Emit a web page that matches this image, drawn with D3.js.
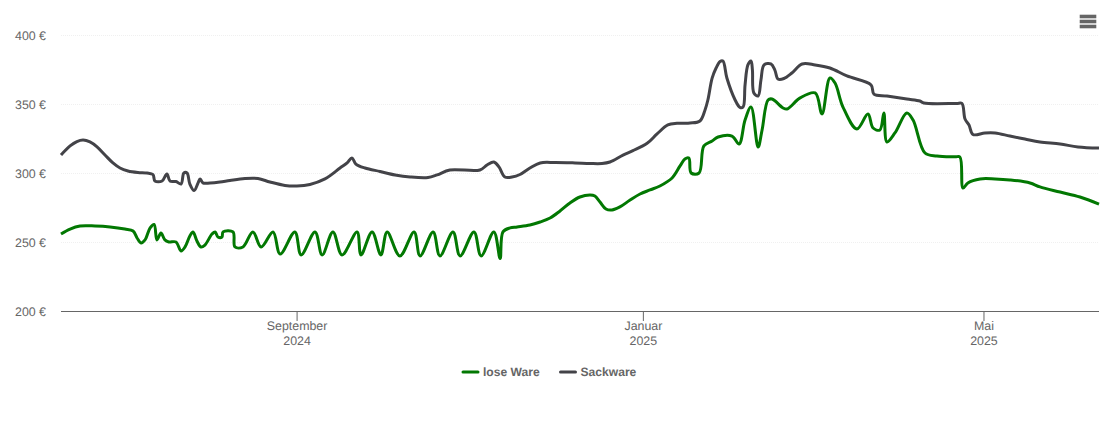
<!DOCTYPE html>
<html>
<head>
<meta charset="utf-8">
<script src="https://d3js.org/d3.v7.min.js"></script>
<style>
  html, body { margin: 0; padding: 0; background: #fff; }
  svg { display: block; font-family: "Liberation Sans", Arial, sans-serif; text-rendering: geometricPrecision; }
</style>
</head>
<body>
<div id="chart"></div>
<script>
// prices in euro, days are counted from the first day on the axis
const startDate = Date.UTC(2024, 5, 10);
const lastDay = 365.7;

const loseDays = [0,3.2,6.7,12,17.3,22.5,25.4,26.8,28.2,29.6,31.4,32.8,33.8,35.2,36.6,38,40.5,42.3,43.7,45.4,46.5,47.9,49.3,50.7,53.2,54.3,55.3,56.7,57.1,60.6,61.3,64.1,67.6,70.5,74.7,77.2,82.4,84.6,89.5,92,95.8,99,104.3,105.7,109.6,112.7,114.9,119.4,124.4,126.5,131.1,133.5,138.1,140.6,145.5,148,152.5,154.7,155.7,158.2,160.7,165.2,168.8,172.3,175.8,179.3,182.8,186.4,188.1,189.9,192,194.1,196.9,200.5,204,207.5,211,215.3,218.1,219.8,221.2,222,224.8,226.5,229.4,231.5,236.4,238.9,241,243.1,245.6,247,249.1,250.5,254.4,255.8,260.4,265.7,268.1,270.9,272.7,275.5,280.4,284.3,286.1,288.5,289.9,291,293.8,298,300.2,304.4,308.6,315,316.7,317.8,319.5,323.8,329.1,334.3,341.4,344.9,352,359,365.7];
const loseValues = [255.8,259.4,261.6,261.6,260.9,259.4,258,252.9,249.3,251.5,260.2,262.7,251.5,256.5,251.5,250,250,243.5,246.4,254.4,257.3,250.7,246.4,247.8,255.8,257.3,253.6,253.6,257.3,257.3,246.4,246.4,257.3,246.4,257.3,241.3,257.3,240.6,257.3,240.6,257.3,240.6,257.3,240.6,257.3,240.6,257.3,239.9,257.3,239.9,257.3,239.9,257.3,239.9,257.3,239.9,257.3,238,257.3,260.2,260.9,262.3,264.5,267.4,272.5,278.3,282.6,284.1,283.3,279,273.9,273.2,275.4,280.4,284.8,287.7,290.6,296.4,305.1,310.2,310.9,300,300,319.6,323.2,326.1,326.8,321,338.4,347.8,318.8,331.2,352.9,353.6,347.1,346.4,354.4,358,342.8,368.8,365.2,347.8,331.9,342.8,332.6,331.2,343.5,322.5,329,343.5,338.4,314.5,312.3,311.7,311.6,289.1,292.8,295.7,295.7,295,292.8,289.9,286.2,282.6,277.5];

const sackDays = [0,3.2,5.6,7.8,10.2,12.7,15.5,18.3,20.8,23.6,27.1,30.3,32.4,33.1,35.6,37.3,38.4,40.5,42.3,43.3,44.4,45.4,46.9,48.3,49,50,52.5,56,59.5,64.8,69.4,73.6,78.9,83.1,87.7,93,98.3,100.8,102.5,103.9,107.1,112.4,117.7,123,129.3,132.5,137,147.6,150.1,152.5,154.3,156.4,158.9,161.7,165.2,168.8,174,181.1,186.4,190.6,193.4,198,201.5,206.5,210,213.8,217,221.6,225.1,226.9,227.9,229.4,230.8,232.2,233.2,234.6,237.5,239.2,240.3,241,242,243.1,243.6,244.1,245.6,246.6,247.7,250.1,251.5,252.6,254.7,257.5,261.1,265.7,270.9,276.9,285.4,286.4,291,298,302.6,304,315.5,317.4,318.5,319.9,321.3,325.5,329.1,334.3,339.6,344.9,352,358.3,365.7];
const sackValues = [313,319.6,322.8,323.9,322.5,318.9,313,307.3,303.6,301.5,300.4,300,298.9,294.2,294.2,299.3,294.2,293.8,292,300,300,292,287.3,292.8,295.7,292.8,292.8,293.5,294.6,296,296,293.5,291,290.6,291.7,295.7,303.6,307.3,310.9,306.5,303.6,301.1,298.6,297.1,296.7,298.6,302.2,302.2,305.8,308,304.4,297.1,297.1,298.9,303.6,307.3,307.6,307.3,306.9,306.9,308,313,316.2,321.5,328.3,334.8,336,336.2,337.7,345.7,352.9,368.8,376.1,380.8,381.2,368.8,352.9,347.5,347.8,363.8,378.3,381.2,374.6,358,355.8,367.4,378.3,379,374.6,368.1,368.5,372.5,379,378.3,376.1,370.3,363.8,357.2,355.8,353.6,352.2,350.7,350.4,350.4,339.1,334.8,327.9,329,329,326.8,324.6,322.5,321,318.9,318.1];

const yTicks = [200, 250, 300, 350, 400];
const xTickDates = [Date.UTC(2024, 8, 1), Date.UTC(2025, 0, 1), Date.UTC(2025, 4, 1)];
const xTickMonths = ["September", "Januar", "Mai"];
const xTickYears = ["2024", "2025", "2025"];

const seriesNames = ["lose Ware", "Sackware"];
const seriesColors = ["#027802", "#434348"];

const width = 1110, height = 422;
const plot = { left: 61, right: 1099, top: 35, bottom: 311 };

const toDate = d => new Date(startDate + d * 864e5);

const x = d3.scaleUtc()
  .domain([toDate(0), toDate(lastDay)])
  .range([plot.left, plot.right]);
const y = d3.scaleLinear()
  .domain([200, 400])
  .range([plot.bottom, plot.top]);

const svg = d3.select("#chart").append("svg")
  .attr("width", width)
  .attr("height", height);

// y axis: labels and dotted grid only
const yAxis = svg.append("g")
  .attr("transform", `translate(${plot.left},0)`)
  .call(d3.axisLeft(y).tickValues(yTicks).tickFormat(d => `${d} €`).tickSize(0).tickPadding(15));
yAxis.select(".domain").remove();
yAxis.selectAll("text").attr("fill", "#666").attr("y", 0.2).style("font-size", "12.4px").style("font-family", "inherit");
yAxis.selectAll(".tick").filter(d => d !== 200).append("line")
  .attr("x1", 0)
  .attr("x2", plot.right - plot.left)
  .attr("stroke", "#f0f0f0")
  .attr("stroke-dasharray", "1,1");

// x axis with two line labels
const xAxis = svg.append("g")
  .attr("transform", `translate(0,${plot.bottom})`)
  .call(d3.axisBottom(x).tickValues(xTickDates.map(t => new Date(t))).tickSize(10).tickFormat(""));
xAxis.select(".domain").attr("stroke", "#666").attr("d", `M${plot.left},0.5H${plot.right}`);
xAxis.selectAll(".tick line").attr("stroke", "#666");
xAxis.selectAll(".tick text").each(function (d, i) {
  const t = d3.select(this).text(null).attr("dy", 0).attr("fill", "#666").style("font-size", "12.4px").style("font-family", "inherit");
  t.append("tspan").attr("x", 0).attr("y", 19).text(xTickMonths[i]);
  t.append("tspan").attr("x", 0).attr("y", 34).text(xTickYears[i]);
});

const line = d3.line()
  .x(d => x(toDate(d[0])))
  .y(d => y(d[1]))
  .curve(d3.curveCatmullRom.alpha(0.5));

const seriesData = [
  d3.zip(loseDays, loseValues),
  d3.zip(sackDays, sackValues)
];

svg.append("g").selectAll("path")
  .data(seriesData)
  .join("path")
  .attr("d", line)
  .attr("fill", "none")
  .attr("stroke", (d, i) => seriesColors[i])
  .attr("stroke-width", 3)
  .attr("stroke-linejoin", "round");

// legend
const legendX = [463, 560.5];
const legend = svg.append("g").selectAll("g")
  .data(seriesNames)
  .join("g")
  .attr("transform", (d, i) => `translate(${legendX[i]},372)`);
legend.append("line")
  .attr("x1", 0).attr("x2", 15)
  .attr("stroke", (d, i) => seriesColors[i])
  .attr("stroke-width", 3)
  .attr("stroke-linecap", "round");
legend.append("text")
  .attr("x", 20).attr("y", 4)
  .attr("fill", "#666")
  .style("font-size", "12.1px")
  .style("font-weight", "bold")
  .text(d => d);

// menu button
svg.append("g").selectAll("rect")
  .data([15, 20, 25])
  .join("rect")
  .attr("x", 1080).attr("y", d => d)
  .attr("width", 16).attr("height", 3)
  .attr("fill", "#666")
  .attr("stroke", "#666")
  .attr("stroke-width", 0.6);
</script>
</body>
</html>
